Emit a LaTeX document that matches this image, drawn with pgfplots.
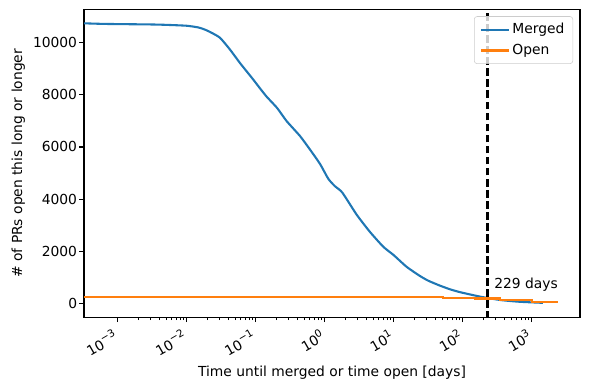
\documentclass[border=0pt]{standalone}
\usepackage{fontspec}
\setmainfont{DejaVu Sans}
\usepackage{pgfplots}
\pgfplotsset{compat=1.18}
\definecolor{tabblue}{HTML}{1F77B4}
\definecolor{taborange}{HTML}{FF7F0E}
\newcommand{\tp}[1]{10\raisebox{0.45em}{\fontsize{7.5}{8}\selectfont #1}}
\begin{document}
\begin{tikzpicture}
\useasboundingbox (-60.5bp,-51.6bp) rectangle (364.3bp,228.5bp);
\begin{axis}[
  scale only axis,
  width=357.1bp, height=221.8bp,
  xmode=log,
  xmin=3.25e-4, xmax=5012,
  ymin=-537, ymax=11281,
  xtick={1e-3,1e-2,1e-1,1,10,100,1000},
  xticklabels={\tp{−3},\tp{−2},\tp{−1},\tp{0},\tp{1},\tp{2},\tp{3}},
  ytick={0,2000,4000,6000,8000,10000},
  yticklabels={0,2000,4000,6000,8000,10000},
  xticklabel style={rotate=30, anchor=north east, inner sep=1.5bp, xshift=-4bp, font=\fontsize{10}{12}\selectfont},
  yticklabel style={font=\fontsize{10}{12}\selectfont, xshift=2bp},
  tick pos=left,
  tick align=outside,
  major tick length=3.5bp,
  minor tick length=2bp,
  every tick/.style={black, line width=0.8bp},
  minor tick style={line width=0.6bp},
  axis line style={line width=0.8bp},
  xlabel={Time until merged or time open [days]},
  ylabel={\# of PRs open this long or longer},
  label style={font=\fontsize{10}{12}\selectfont},
  xlabel style={yshift=-1bp},
  ylabel style={yshift=-1bp},
  legend style={at={(1,1)}, anchor=north east, xshift=-5bp, yshift=-5bp,
    draw=black!20, rounded corners=2bp, fill=white, fill opacity=0.8, text opacity=1,
    font=\fontsize{10}{12}\selectfont, inner xsep=4bp, inner ysep=3bp, row sep=2bp},
  legend cell align=left,
  legend image code/.code={\draw[#1] (0bp,0bp) -- (20bp,0bp);},
]
\addplot[tabblue, line width=1.5bp, smooth, tension=0.35] coordinates {
(3.25e-4,10744) (6.55e-4,10720) (2.94e-3,10700) (5e-3,10685) (0.01,10650)
(0.015,10580) (0.02,10460) (0.03,10200) (0.042,9750) (0.06,9200)
(0.09,8620) (0.1153,8250) (0.1442,7928) (0.2037,7500) (0.2812,6990) (0.4385,6420)
(0.6124,5900) (0.855,5350) (1.127,4780) (1.4,4500) (1.8,4250) (2.911,3400)
(4.5,2750) (7.063,2172) (10,1850) (15.42,1400) (24.04,1050) (31.62,870) (46.88,680)
(65.46,540) (91.41,430) (177.8,260) (346.7,130) (676.1,60) (1455,20)
};
\addlegendentry{Merged}
\addplot[taborange, line width=1.5bp, const plot] coordinates {
(3.25e-4,250) (52,215) (150,185) (348,127) (1000,45) (2381,45)
};
\addlegendentry{Open}
\addplot[black, line width=1.5bp, dash pattern=on 5.55bp off 2.4bp, forget plot] coordinates {(229,-600) (229,12000)};
\node[anchor=west, inner sep=0pt, font=\fontsize{10}{12}\selectfont] at (axis cs:284,702) {229 days};
\end{axis}
\end{tikzpicture}
\end{document}
